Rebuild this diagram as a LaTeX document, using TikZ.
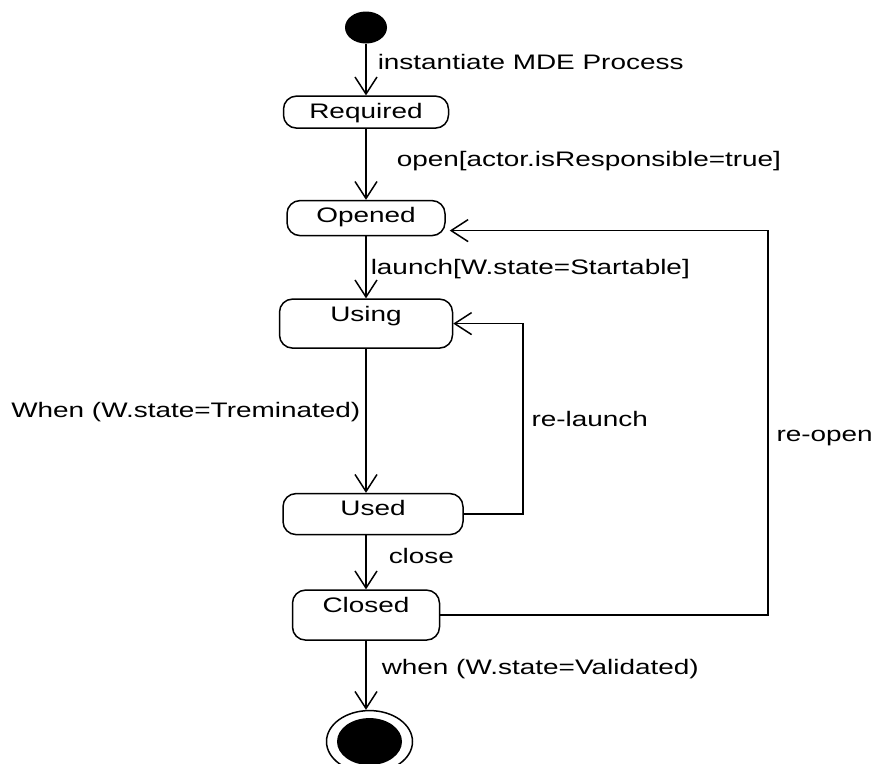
\documentclass[tikz,border=0pt]{standalone}
\usepackage{fontspec}
\setmainfont{Liberation Sans}[FakeStretch=1.33]
\usepackage{tikz}
\usetikzlibrary{arrows.meta, positioning, shapes.geometric}

\begin{document}
\begin{tikzpicture}[
    >={Straight Barb[length=0.34cm, width=0.44cm]},
    node distance=1cm,
    every node/.style={font=\fontsize{11.95pt}{14pt}\selectfont},
    state/.style={rectangle, rounded corners=0.26cm, draw, line width=0.85pt, inner sep=0pt, text height=0.44cm, minimum width=#1},
    pseudo/.style={ellipse, fill=black, inner sep=0pt, minimum width=0.84cm, minimum height=0.64cm},
    finalstate/.style={ellipse, draw, line width=0.85pt, inner sep=0pt, minimum width=1.72cm, minimum height=1.24cm},
    trans/.style={->, line width=0.85pt},
    guard/.style={inner sep=0pt}
  ]

  \useasboundingbox (0,0) rectangle (17.52,-15.26);

  % States
  \node[pseudo] (init) at (7.32,-0.55) {};
  \node[state=3.3cm, text depth=0.2cm, below=1.03cm of init] (required) {Required};
  \node[state=3.16cm, text depth=0.26cm, below=1.42cm of required] (opened) {Opened};
  \node[state=3.46cm, text depth=0.54cm, below=1.24cm of opened] (using) {Using};
  \node[state=3.6cm, text depth=0.38cm, below=2.88cm of using, xshift=0.14cm] (used) {Used};
  \node[state=2.94cm, text depth=0.56cm, below=1.08cm of used, xshift=-0.14cm] (closed) {Closed};
  \node[finalstate, below=1.38cm of closed, xshift=0.07cm] (final) {};
  \fill (final.center) ellipse (0.65cm and 0.47cm);

  % Transitions
  \draw[trans] (init) -- node[guard, right=0.22cm, pos=0.36] {instantiate MDE Process} (required);
  \draw[trans] (required) -- node[guard, right=0.6cm, pos=0.46] {open[actor.isResponsible=true]} (opened);
  \draw[trans] (opened) -- node[guard, right=0.08cm, pos=0.52] {launch[W.state=Startable]} (using);
  \draw[trans] (using) -- node[guard, left=0.1cm, pos=0.44] {When (W.state=Treminated)} (using |- used.north);
  \draw[trans] (used.south -| closed) -- node[guard, right=0.44cm, pos=0.38] {close} (closed);
  \draw[trans] (closed) -- node[guard, right=0.3cm, pos=0.41] {when (W.state=Validated)} (closed |- final.north);

  % Loops back
  \draw[trans] (used.east) -- ++(1.18,0) |- node[guard, right=0.16cm, pos=0.25] {re-launch} (using.east);
  \draw[trans] (closed.east) -- ++(6.55,0) |- node[guard, right=0.16cm, pos=0.23] {re-open} ([xshift=0.08cm, yshift=-0.25cm]opened.east);

\end{tikzpicture}
\end{document}
